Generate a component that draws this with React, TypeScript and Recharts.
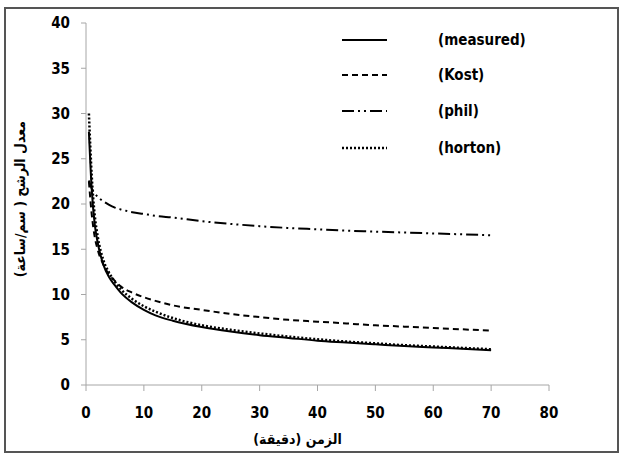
import React from 'react';
import { LineChart, Line, XAxis, YAxis, Legend, Label } from 'recharts';

const times = [0.5, 1, 1.5, 2, 3, 4, 5, 6, 8, 10, 12, 15, 20, 25, 30, 35, 40, 45, 50, 55, 60, 65, 70];
const measured = [28, 21.5, 17.8, 15.8, 13.3, 11.9, 11.0, 10.2, 9.1, 8.3, 7.7, 7.1, 6.4, 5.9, 5.5, 5.2, 4.9, 4.7, 4.5, 4.3, 4.15, 4.0, 3.85];
const kost = [22.5, 18.8, 16.4, 15.0, 13.3, 12.2, 11.5, 10.9, 10.2, 9.7, 9.3, 8.8, 8.3, 7.85, 7.5, 7.2, 7.0, 6.8, 6.6, 6.45, 6.3, 6.15, 6.0];
const phil = [22.6, 21.7, 21.2, 20.8, 20.3, 19.9, 19.6, 19.4, 19.1, 18.9, 18.7, 18.5, 18.1, 17.8, 17.55, 17.35, 17.2, 17.05, 16.95, 16.85, 16.75, 16.65, 16.55];
const horton = [30, 23, 18.8, 16.5, 13.8, 12.4, 11.4, 10.6, 9.5, 8.7, 8.1, 7.4, 6.6, 6.1, 5.7, 5.35, 5.05, 4.8, 4.6, 4.4, 4.25, 4.1, 3.95];
const xTicks = [0, 10, 20, 30, 40, 50, 60, 70, 80];
const yTicks = [0, 5, 10, 15, 20, 25, 30, 35, 40];
const seriesNames = ['(measured)', '(Kost)', '(phil)', '(horton)'];

const data = times.map((t, i) => ({ t, measured: measured[i], kost: kost[i], phil: phil[i], horton: horton[i] }));

const FONT = "'Liberation Sans Narrow', 'DejaVu Sans Condensed', 'Open Sans', sans-serif";

const styles = [
  { key: 'measured', dash: undefined as string | undefined, width: 2 },
  { key: 'kost', dash: '6 4', width: 2 },
  { key: 'phil', dash: '12 4 2 4 2 4', width: 2 },
  { key: 'horton', dash: '2 2', width: 2.5 },
];

const rowY = [15, 50, 86, 123];

const renderLegend = () => (
  <svg width={220} height={140} style={{ display: 'block' }}>
    {seriesNames.map((n, i) => (
      <g key={n}>
        <line x1={12} x2={57} y1={rowY[i]} y2={rowY[i]} stroke="#000" strokeWidth={styles[i].width} strokeDasharray={styles[i].dash} />
        <text x={108} y={rowY[i] + 5} fontFamily={FONT} fontWeight="bold" fontSize={15} fill="#000">{n}</text>
      </g>
    ))}
  </svg>
);

export default function App() {
  return (
    <div style={{ position: 'absolute', left: 0, top: 0, width: 621, height: 456, background: '#fff' }}>
      <div style={{ position: 'absolute', left: 4, top: 7, width: 611, height: 442, border: '2px solid #555' }} />
      <div style={{ position: 'absolute', left: 0, top: 0 }}>
        <LineChart width={621} height={456} data={data} margin={{ top: 23, right: 72, bottom: 0, left: 0 }}>
          <XAxis
            dataKey="t"
            type="number"
            domain={[0, 80]}
            ticks={xTicks}
            height={71}
            stroke="#a6a6a6"
            tickSize={6}
            tickMargin={16}
            tick={{ fill: '#000', fontFamily: FONT, fontWeight: 'bold', fontSize: 15 }}
          >
            <Label value="الزمن (دقيقة)" position="insideBottom" offset={12} dx={-20} fill="#000" fontFamily={FONT} fontWeight="bold" fontSize={14} />
          </XAxis>
          <YAxis
            type="number"
            domain={[0, 40]}
            ticks={yTicks}
            width={86}
            stroke="#a6a6a6"
            tickSize={5}
            tickMargin={11}
            tick={{ fill: '#000', fontFamily: FONT, fontWeight: 'bold', fontSize: 15 }}
          >
            <Label value="معدل الرشح ( سم/ساعة)" angle={-90} position="insideLeft" offset={20} dy={-5} fill="#000" fontFamily={FONT} fontWeight="bold" fontSize={14} style={{ textAnchor: 'middle' }} />
          </YAxis>
          <Legend layout="vertical" align="center" verticalAlign="middle" content={renderLegend} wrapperStyle={{ left: 330, top: 25, width: 220 }} />
          {styles.map((s, i) => (
            <Line key={s.key} name={seriesNames[i]} dataKey={s.key} type="monotone" stroke="#000" strokeWidth={s.width} strokeDasharray={s.dash} dot={false} isAnimationActive={false} />
          ))}
        </LineChart>
      </div>
    </div>
  );
}
